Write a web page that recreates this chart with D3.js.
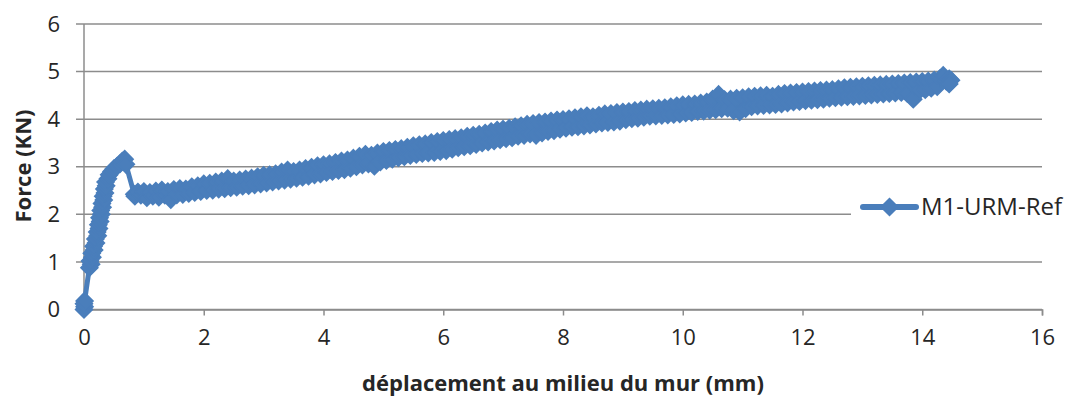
<!DOCTYPE html>
<html>
<head>
<meta charset="utf-8">
<script src="https://cdn.jsdelivr.net/npm/d3@7"></script>
<style>
  html, body { margin: 0; padding: 0; background: #ffffff; }
  svg { display: block; }
</style>
</head>
<body>
<svg id="chart" width="1069" height="397"></svg>
<script>
// ---- data ----
const seriesName = "M1-URM-Ref";
const xTicks = [0, 2, 4, 6, 8, 10, 12, 14, 16];
const yTicks = [0, 1, 2, 3, 4, 5, 6];
const xTitle = "déplacement au milieu du mur (mm)";
const yTitle = "Force (KN)";

const displacement = [
  0.00, 0.01, 0.00, 0.01, 0.09, 0.12, 0.10, 0.14, 0.13, 0.17, 0.16, 0.20, 0.19, 0.23, 0.22, 0.25,
  0.24, 0.27, 0.26, 0.29, 0.28, 0.31, 0.30, 0.33, 0.32, 0.35, 0.34, 0.37, 0.36, 0.40, 0.42, 0.46,
  0.50, 0.55, 0.60, 0.64, 0.68, 0.70, 0.84,
  0.85, 0.90, 0.95,
  1.00, 1.05, 1.10, 1.15, 1.20, 1.25, 1.30, 1.35, 1.40, 1.45, 1.50, 1.55, 1.60, 1.65, 1.70, 1.75, 1.80, 1.85, 1.90, 1.95,
  2.00, 2.05, 2.10, 2.15, 2.20, 2.25, 2.30, 2.35, 2.40, 2.45, 2.50, 2.55, 2.60, 2.65, 2.70, 2.75, 2.80, 2.85, 2.90, 2.95,
  3.00, 3.05, 3.10, 3.15, 3.20, 3.25, 3.30, 3.35, 3.40, 3.45, 3.50, 3.55, 3.60, 3.65, 3.70, 3.75, 3.80, 3.85, 3.90, 3.95,
  4.00, 4.05, 4.10, 4.15, 4.20, 4.25, 4.30, 4.35, 4.40, 4.45, 4.50, 4.55, 4.60, 4.65, 4.70, 4.75, 4.80, 4.85, 4.90, 4.95,
  5.00, 5.05, 5.10, 5.15, 5.20, 5.25, 5.30, 5.35, 5.40, 5.45, 5.50, 5.55, 5.60, 5.65, 5.70, 5.75, 5.80, 5.85, 5.90, 5.95,
  6.00, 6.05, 6.10, 6.15, 6.20, 6.25, 6.30, 6.35, 6.40, 6.45, 6.50, 6.55, 6.60, 6.65, 6.70, 6.75, 6.80, 6.85, 6.90, 6.95,
  7.00, 7.05, 7.10, 7.15, 7.20, 7.25, 7.30, 7.35, 7.40, 7.45, 7.50, 7.55, 7.60, 7.65, 7.70, 7.75, 7.80, 7.85, 7.90, 7.95,
  8.00, 8.05, 8.10, 8.15, 8.20, 8.25, 8.30, 8.35, 8.40, 8.45, 8.50, 8.55, 8.60, 8.65, 8.70, 8.75, 8.80, 8.85, 8.90, 8.95,
  9.00, 9.05, 9.10, 9.15, 9.20, 9.25, 9.30, 9.35, 9.40, 9.45, 9.50, 9.55, 9.60, 9.65, 9.70, 9.75, 9.80, 9.85, 9.90, 9.95,
  10.00, 10.05, 10.10, 10.15, 10.20, 10.25, 10.30, 10.35, 10.40, 10.45, 10.50, 10.55, 10.60, 10.65, 10.70, 10.75, 10.80, 10.85, 10.90, 10.95,
  11.00, 11.05, 11.10, 11.15, 11.20, 11.25, 11.30, 11.35, 11.40, 11.45, 11.50, 11.55, 11.60, 11.65, 11.70, 11.75, 11.80, 11.85, 11.90, 11.95,
  12.00, 12.05, 12.10, 12.15, 12.20, 12.25, 12.30, 12.35, 12.40, 12.45, 12.50, 12.55, 12.60, 12.65, 12.70, 12.75, 12.80, 12.85, 12.90, 12.95,
  13.00, 13.05, 13.10, 13.15, 13.20, 13.25, 13.30, 13.35, 13.40, 13.45, 13.50, 13.55, 13.60, 13.65, 13.70, 13.75, 13.80, 13.85, 13.90, 13.95,
  14.00, 14.05, 14.10, 14.15, 14.20, 14.25, 14.30, 14.35, 14.40, 14.45, 14.48, 14.45
];
const force = [
  0.00, 0.06, 0.12, 0.18, 0.88, 0.95, 1.02, 1.10, 1.18, 1.25, 1.33, 1.40, 1.48, 1.55, 1.63, 1.70,
  1.78, 1.85, 1.93, 2.00, 2.08, 2.15, 2.23, 2.30, 2.38, 2.45, 2.53, 2.60, 2.68, 2.75, 2.83, 2.90,
  2.96, 3.01, 3.06, 3.12, 3.16, 3.05, 2.42,
  2.38, 2.47, 2.40,
  2.48, 2.35, 2.46, 2.38, 2.49, 2.36, 2.51, 2.40, 2.48, 2.31, 2.52, 2.41, 2.54, 2.42, 2.53, 2.44, 2.58, 2.46, 2.60, 2.48,
  2.64, 2.50, 2.65, 2.51, 2.68, 2.53, 2.70, 2.54, 2.75, 2.56, 2.70, 2.57, 2.72, 2.59, 2.74, 2.60, 2.76, 2.62, 2.79, 2.64,
  2.82, 2.66, 2.83, 2.68, 2.85, 2.70, 2.89, 2.72, 2.93, 2.74, 2.90, 2.76, 2.93, 2.78, 2.96, 2.80, 2.99, 2.83, 3.02, 2.85,
  3.04, 2.88, 3.06, 2.90, 3.09, 2.92, 3.12, 2.94, 3.14, 2.97, 3.18, 3.00, 3.22, 3.04, 3.26, 3.06, 3.24, 3.01, 3.29, 3.10,
  3.32, 3.13, 3.34, 3.16, 3.36, 3.19, 3.38, 3.21, 3.41, 3.24, 3.44, 3.26, 3.46, 3.28, 3.48, 3.29, 3.51, 3.30, 3.53, 3.32,
  3.55, 3.34, 3.57, 3.37, 3.59, 3.40, 3.61, 3.42, 3.64, 3.44, 3.66, 3.47, 3.68, 3.50, 3.71, 3.52, 3.74, 3.54, 3.77, 3.57,
  3.79, 3.59, 3.81, 3.61, 3.84, 3.64, 3.86, 3.66, 3.89, 3.69, 3.91, 3.66, 3.93, 3.71, 3.94, 3.74, 3.96, 3.76, 3.98, 3.79,
  3.99, 3.81, 4.01, 3.83, 4.03, 3.84, 4.05, 3.86, 4.07, 3.88, 4.05, 3.90, 4.08, 3.92, 4.11, 3.93, 4.12, 3.94, 4.14, 3.96,
  4.15, 3.99, 4.16, 4.01, 4.18, 4.02, 4.19, 4.04, 4.21, 4.06, 4.22, 4.07, 4.23, 4.08, 4.24, 4.09, 4.26, 4.10, 4.28, 4.11,
  4.30, 4.13, 4.31, 4.14, 4.32, 4.16, 4.34, 4.17, 4.36, 4.19, 4.42, 4.20, 4.52, 4.22, 4.41, 4.23, 4.42, 4.18, 4.44, 4.15,
  4.45, 4.22, 4.47, 4.26, 4.48, 4.28, 4.49, 4.29, 4.50, 4.30, 4.48, 4.31, 4.52, 4.32, 4.54, 4.34, 4.55, 4.36, 4.56, 4.37,
  4.57, 4.39, 4.58, 4.40, 4.59, 4.41, 4.60, 4.42, 4.61, 4.44, 4.62, 4.45, 4.64, 4.46, 4.66, 4.47, 4.67, 4.48, 4.68, 4.49,
  4.69, 4.50, 4.70, 4.51, 4.71, 4.52, 4.72, 4.53, 4.73, 4.54, 4.74, 4.55, 4.75, 4.56, 4.76, 4.54, 4.77, 4.42, 4.78, 4.60,
  4.79, 4.62, 4.80, 4.65, 4.82, 4.68, 4.86, 4.92, 4.80, 4.85, 4.82, 4.74
];

// ---- layout ----
const color = "#4a7ebb";
const gridColor = "#8c8c8c";
const textColor = "#262626";
const fontFamily = "'Open Sans', 'Noto Sans', sans-serif";

const svg = d3.select("#chart");
const x = d3.scaleLinear().domain([0, 16]).range([84, 1042]);
const y = d3.scaleLinear().domain([0, 6]).range([309.5, 24]);

// horizontal gridlines
svg.append("g").selectAll("line").data(yTicks).join("line")
  .attr("x1", 76).attr("x2", x(16))
  .attr("y1", d => y(d)).attr("y2", d => y(d))
  .attr("stroke", gridColor).attr("stroke-width", 1.5);

// y axis line
svg.append("line")
  .attr("x1", x(0)).attr("x2", x(0)).attr("y1", y(6)).attr("y2", y(0))
  .attr("stroke", gridColor).attr("stroke-width", 1.5);

// x axis with ticks
const xAxis = svg.append("g").attr("transform", `translate(0,${y(0)})`)
  .call(d3.axisBottom(x).tickValues(xTicks).tickSize(6).tickPadding(14).tickFormat(d3.format("d")));
xAxis.select(".domain").attr("stroke", gridColor).attr("stroke-width", 1.5);
xAxis.selectAll(".tick line").attr("stroke", gridColor).attr("stroke-width", 1.5);
xAxis.selectAll(".tick text").attr("fill", textColor)
  .style("font-family", fontFamily).style("font-size", "22px");

// y tick labels
svg.append("g").selectAll("text").data(yTicks).join("text")
  .attr("x", 60).attr("y", d => y(d)).attr("dy", "0.35em")
  .attr("text-anchor", "end").attr("fill", textColor)
  .style("font-family", fontFamily).style("font-size", "22px")
  .text(d => d);

// axis titles
svg.append("text")
  .attr("x", 563).attr("y", 391)
  .attr("text-anchor", "middle").attr("fill", textColor)
  .style("font-family", fontFamily).style("font-size", "22px").style("font-weight", "bold")
  .text(xTitle);
svg.append("text")
  .attr("transform", "translate(31,166) rotate(-90)")
  .attr("text-anchor", "middle").attr("fill", textColor)
  .style("font-family", fontFamily).style("font-size", "22px").style("font-weight", "bold")
  .text(yTitle);

// series
const pts = displacement.map((d, i) => [d, force[i]]);
const line = d3.line().x(d => x(d[0])).y(d => y(d[1]));
svg.append("path").datum(pts)
  .attr("d", line).attr("fill", "none")
  .attr("stroke", color).attr("stroke-width", 5).attr("stroke-linejoin", "round");

const r = 8.5;
const diamond = `M0,${-r}L${r},0L0,${r}L${-r},0Z`;
svg.append("g").selectAll("path").data(pts).join("path")
  .attr("transform", d => `translate(${x(d[0])},${y(d[1])})`)
  .attr("d", diamond).attr("fill", color).attr("stroke", color).attr("stroke-width", 1.5);

// legend
const lg = svg.append("g");
lg.append("rect").attr("x", 851).attr("y", 192).attr("width", 218).attr("height", 32).attr("fill", "#ffffff");
lg.append("line").attr("x1", 863).attr("x2", 916).attr("y1", 207).attr("y2", 207)
  .attr("stroke", color).attr("stroke-width", 6).attr("stroke-linecap", "round");
lg.append("path").attr("transform", "translate(889.5,207)").attr("d", diamond)
  .attr("fill", color).attr("stroke", color).attr("stroke-width", 1.5);
lg.append("text").attr("x", 921).attr("y", 207).attr("dy", "0.35em")
  .attr("fill", textColor)
  .style("font-family", fontFamily).style("font-size", "24px")
  .text(seriesName);
</script>
</body>
</html>
